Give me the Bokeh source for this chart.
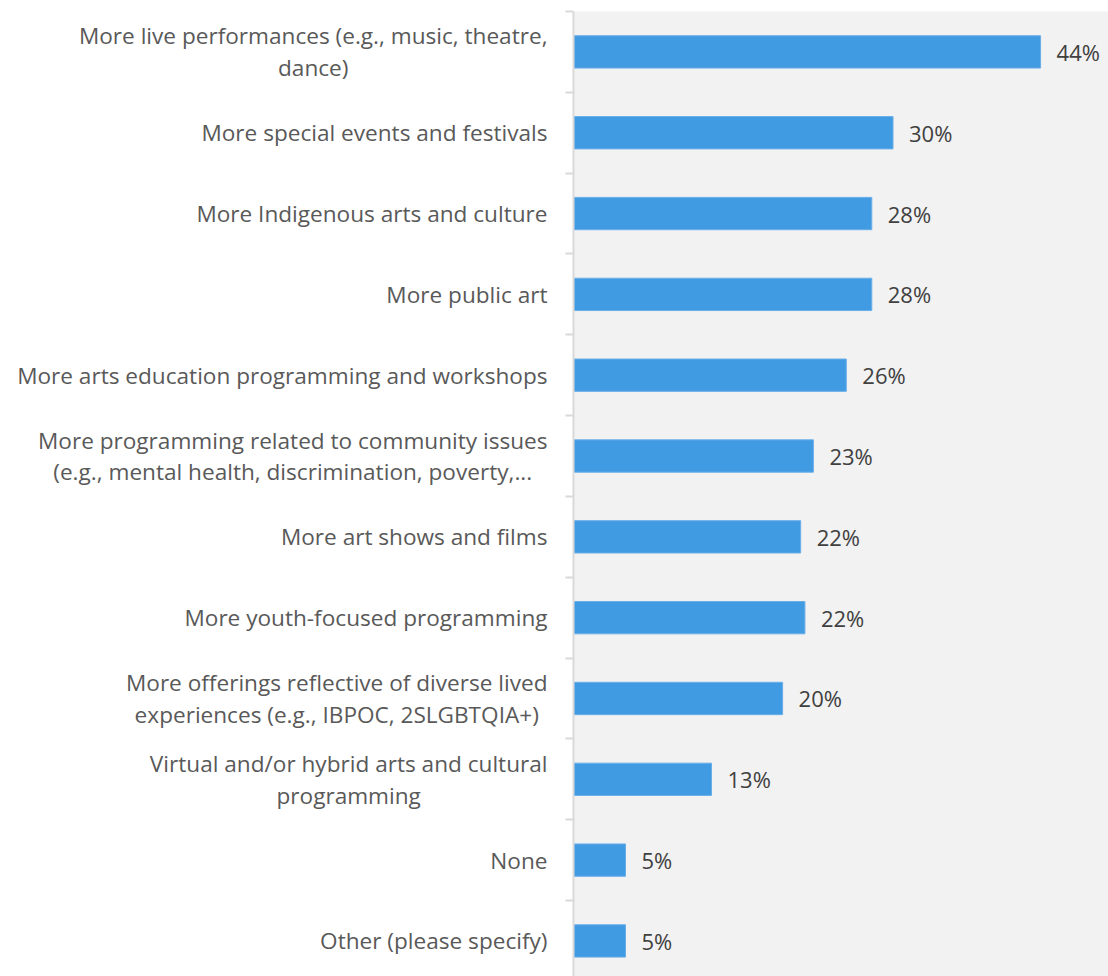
from bokeh.plotting import figure
from bokeh.layouts import row
from bokeh.models import ColumnDataSource, Range1d, FixedTicker
from bokeh.core.properties import value
from bokeh.embed import file_html
from bokeh.resources import INLINE

categories = [
    "More live performances (e.g., music, theatre,\ndance)",
    "More special events and festivals",
    "More Indigenous arts and culture",
    "More public art",
    "More arts education programming and workshops",
    "More programming related to community issues\n(e.g., mental health, discrimination, poverty,...",
    "More art shows and films",
    "More youth-focused programming",
    "More offerings reflective of diverse lived\nexperiences (e.g., IBPOC, 2SLGBTQIA+)",
    "Virtual and/or hybrid arts and cultural\nprogramming",
    "None",
    "Other (please specify)",
]
values = [44.0, 30.1, 28.1, 28.1, 25.7, 22.6, 21.4, 21.8, 19.7, 13.0, 4.9, 4.9]
pct_labels = ["44%", "30%", "28%", "28%", "26%", "23%", "22%", "22%", "20%", "13%", "5%", "5%"]

ys = list(range(len(categories)))
src = ColumnDataSource(dict(y=ys, cat=categories, val=values, lab=pct_labels))
boundaries = [i - 0.5 for i in range(len(categories) + 1)]

H = 976
L = 565
M = 1108 - L
FONT = value("Open Sans")

yr = Range1d(start=11.44, end=-0.5)

# main plot
p = figure(width=M, height=H, x_range=Range1d(0, 50.4), y_range=yr,
           x_axis_location=None, output_backend="svg", toolbar_location=None,
           min_border_top=11, min_border_bottom=0, min_border_right=0, min_border_left=0,
           background_fill_color="#f2f2f2", border_fill_color="white",
           outline_line_color=None)
p.hbar(y="y", left=0, right="val", height=0.4, source=src,
       fill_color="#419be3", line_color="#6aaee8", line_width=1)
p.text(x="val", y="y", text="lab", source=src, x_offset=16,
       text_align="left", text_baseline="middle", text_font=FONT,
       text_font_size="22px", text_color="#404040")
p.grid.visible = False
ax = p.yaxis[0]
ax.ticker = FixedTicker(ticks=boundaries)
ax.major_label_overrides = {b: "" for b in boundaries}
ax.major_label_text_color = None
ax.major_label_standoff = 0
ax.major_tick_out = 8
ax.major_tick_in = 0
ax.minor_tick_line_color = None
ax.axis_line_color = "#d9d9d9"
ax.axis_line_width = 2
ax.major_tick_line_color = "#d9d9d9"
ax.major_tick_line_width = 2

# category label panel
q = figure(width=L, height=H, x_range=Range1d(0, 1), y_range=yr,
           x_axis_location=None, y_axis_location=None,
           output_backend="svg", toolbar_location=None,
           min_border_top=11, min_border_bottom=0, min_border_left=0, min_border_right=0,
           background_fill_color="white", border_fill_color="white",
           outline_line_color=None)
q.grid.visible = False
q.text(x=1, y="y", text="cat", source=src, x_offset=-18,
       anchor="center_right", text_align="center", text_baseline="middle",
       text_font=FONT, text_font_size="22.6px", text_color="#595959",
       text_line_height=1.03)

layout = row(q, p)
open("out.html", "w").write(file_html(layout, INLINE))
